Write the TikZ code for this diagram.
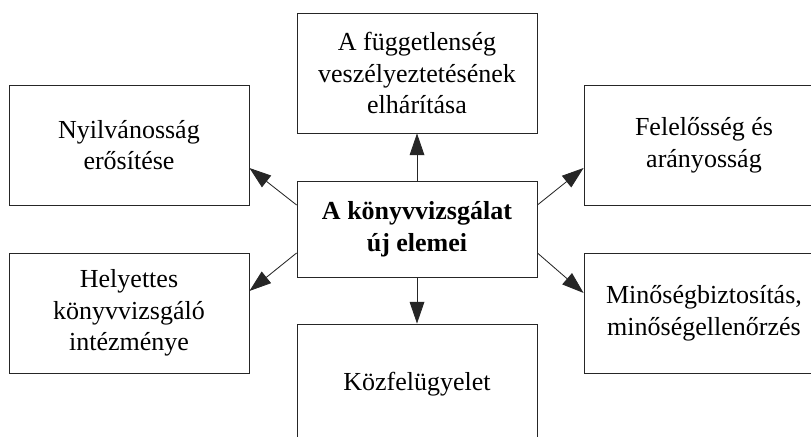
\documentclass[tikz,border=0pt]{standalone}
\usepackage{fontspec}
\setmainfont{Liberation Serif}
\usepackage{tikz}
\usetikzlibrary{arrows.meta,positioning}

\begin{document}
\begin{tikzpicture}[
	box/.style={draw=black!85,line width=0.6pt,minimum width=6cm,minimum height=3cm,align=center,inner sep=0pt,font=\fontsize{18.5}{22.5}\selectfont},
	kozepbox/.style={box,minimum height=2.4cm,font=\fontsize{18.5}{22.5}\selectfont\bfseries},
	nyil/.style={draw=black!85,line width=0.6pt,-{Triangle[length=15.5pt,width=10.5pt]}}]
	\useasboundingbox (0,0) rectangle (20.275,10.925);
	\clip (0,0) rectangle (20.275,10.925);
	\node[kozepbox] (kozep) at (10.425,5.2) {A könyvvizsgálat\\új elemei};
	\node[box] (fugg) at (10.425,9.1) {A függetlenség\\veszélyeztetésének\\elhárítása};
	\node[box] (kozfel) at (10.425,1.325) {Közfelügyelet};
	\node[box] (nyilv) at (3.225,7.3) {Nyilvánosság\\erősítése};
	\node[box] (helyet) at (3.225,3.1) {Helyettes\\könyvvizsgáló\\intézménye};
	\node[box] (felel) at (17.6,7.3) {Felelősség és\\arányosság};
	\node[box] (minoseg) at (17.6,3.1) {Minőségbiztosítás,\\minőségellenőrzés};
	% nyilak
	\draw[nyil] (kozep.north) -- (fugg.south);
	\draw[nyil] (kozep.south) -- (kozfel.north);
	\draw[nyil] ([yshift=0.6cm]kozep.west) -- ([yshift=-0.575cm]nyilv.east);
	\draw[nyil] ([yshift=-0.6cm]kozep.west) -- ([yshift=0.55cm]helyet.east);
	\draw[nyil] ([yshift=0.6cm]kozep.east) -- ([yshift=-0.575cm]felel.west);
	\draw[nyil] ([yshift=-0.6cm]kozep.east) -- ([yshift=0.5cm]minoseg.west);
\end{tikzpicture}
\end{document}
